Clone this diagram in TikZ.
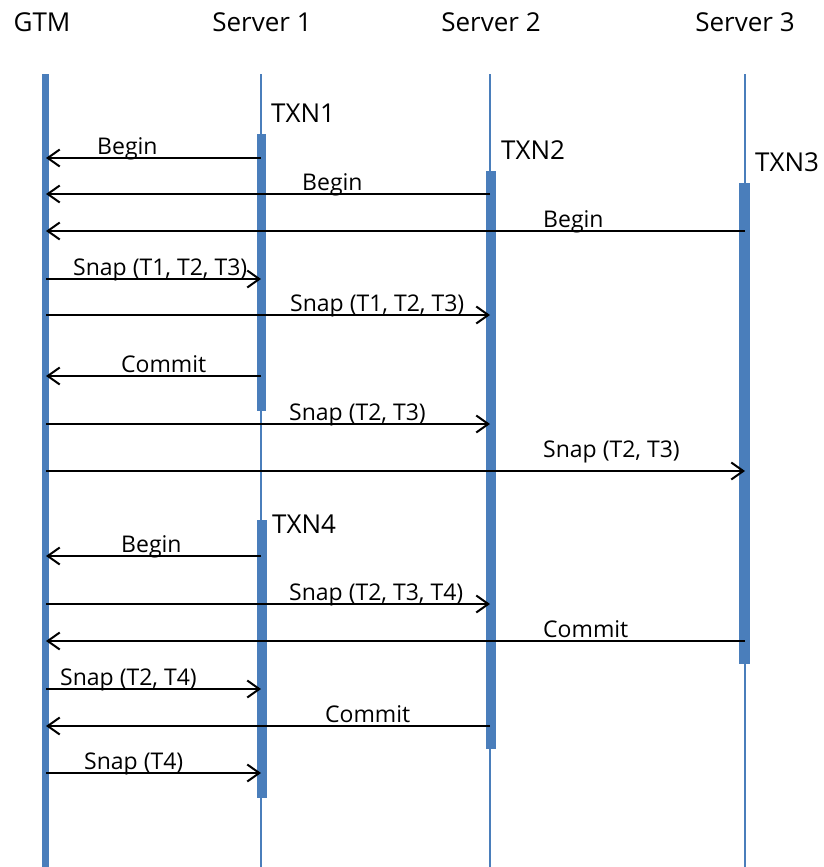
\documentclass[tikz,border=0pt]{standalone}
\usepackage{fontspec}
\setmainfont{Open Sans}
\usetikzlibrary{arrows.meta}
\definecolor{barblue}{RGB}{74,126,187}
\begin{document}
\begin{tikzpicture}[x=1pt,y=-1pt,
  head/.style={font=\fontsize{26}{30}\selectfont, anchor=base, inner sep=0pt},
  txn/.style={font=\fontsize{26}{30}\selectfont, anchor=base west, inner sep=0pt},
  lbl/.style={font=\fontsize{23}{27}\selectfont, anchor=base west, inner sep=0pt},
  lifeline/.style={draw=barblue, line width=2pt},
  actbar/.style={fill=barblue, draw=none},
  msg/.style={draw=black, line width=2pt, -{Straight Barb[length=12pt,width=17pt,line width=2pt]}}]
\useasboundingbox (0,0) rectangle (824,867);

% headers
\node[head] (hgtm) at (42,32) {GTM};
\node[head] (hs1) at (262,32) {Server 1};
\node[head] (hs2) at (491,32) {Server 2};
\node[head] (hs3) at (745,32) {Server 3};

% lifelines
\fill[actbar] (42,74) rectangle (49,867);
\draw[lifeline] (261,74) -- (261,867);
\draw[lifeline] (490,74) -- (490,867);
\draw[lifeline] (745,74) -- (745,867);

% activation bars
\fill[actbar] (257,134) rectangle (266,411);
\fill[actbar] (257,520) rectangle (267,798);
\fill[actbar] (486,171) rectangle (496,749);
\fill[actbar] (739,183) rectangle (750,664);

% transaction labels
\node[txn] (txn1) at (271,122) {TXN1};
\node[txn] (txn2) at (501,159) {TXN2};
\node[txn] (txn3) at (755,171) {TXN3};
\node[txn] (txn4) at (272,533) {TXN4};

% message end points
\coordinate (a1) at (261,158); \coordinate (b1) at (46,158);
\coordinate (a2) at (490,194); \coordinate (b2) at (46,194);
\coordinate (a3) at (745,231); \coordinate (b3) at (46,231);
\coordinate (a4) at (46,279);  \coordinate (b4) at (261,279);
\coordinate (a5) at (46,315);  \coordinate (b5) at (490,315);
\coordinate (a6) at (261,376); \coordinate (b6) at (46,376);
\coordinate (a7) at (46,424);  \coordinate (b7) at (490,424);
\coordinate (a8) at (46,471);  \coordinate (b8) at (745,471);
\coordinate (a9) at (261,556); \coordinate (b9) at (46,556);
\coordinate (a10) at (46,604); \coordinate (b10) at (490,604);
\coordinate (a11) at (745,641); \coordinate (b11) at (46,641);
\coordinate (a12) at (46,689); \coordinate (b12) at (261,689);
\coordinate (a13) at (490,726); \coordinate (b13) at (46,726);
\coordinate (a14) at (46,773); \coordinate (b14) at (261,773);

\foreach \i in {1,...,14} {\draw[msg] (a\i) -- (b\i);}

% message labels
\node[lbl] (l1) at (97,154) {Begin};
\node[lbl] (l2) at (302,190) {Begin};
\node[lbl] (l3) at (543,227) {Begin};
\node[lbl] (l4) at (73,275) {Snap (T1, T2, T3)};
\node[lbl] (l5) at (290,311) {Snap (T1, T2, T3)};
\node[lbl] (l6) at (121,372) {Commit};
\node[lbl] (l7) at (289,420) {Snap (T2, T3)};
\node[lbl] (l8) at (543,457) {Snap (T2, T3)};
\node[lbl] (l9) at (121,552) {Begin};
\node[lbl] (l10) at (289,600) {Snap (T2, T3, T4)};
\node[lbl] (l11) at (543,637) {Commit};
\node[lbl] (l12) at (60,685) {Snap (T2, T4)};
\node[lbl] (l13) at (325,722) {Commit};
\node[lbl] (l14) at (84,769) {Snap (T4)};
\end{tikzpicture}
\end{document}
